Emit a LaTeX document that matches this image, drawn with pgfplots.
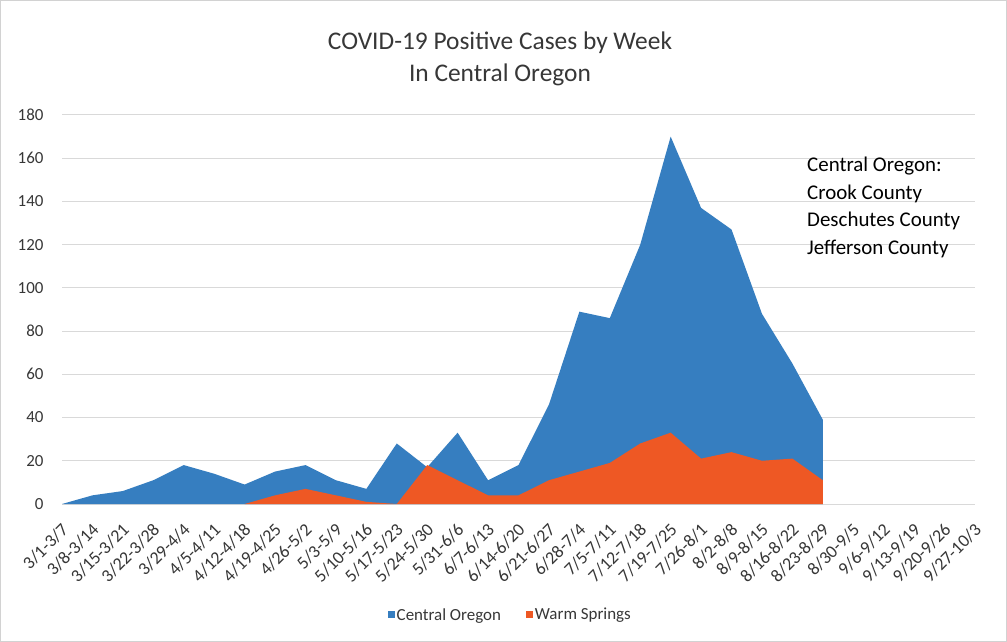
\documentclass[border=0pt]{standalone}
\usepackage{fontspec}
\setmainfont{Carlito}
\usepackage{pgfplots}
\pgfplotsset{compat=1.18}
\definecolor{coblue}{RGB}{54,126,192}
\definecolor{wsorange}{RGB}{238,88,36}
\definecolor{gridgray}{RGB}{217,217,217}
\definecolor{txtgray}{RGB}{55,55,55}
\begin{document}
\begin{tikzpicture}
\useasboundingbox (0bp,0bp) rectangle (1007bp,642bp);
\fill[white] (0bp,0bp) rectangle (1007bp,642bp);
\draw[gray!35, line width=1bp] (0.5bp,0.5bp) rectangle (1006.5bp,641.5bp);
\node[anchor=base, font=\fontsize{25.5}{25.5}\selectfont, text=txtgray] at (500bp,592bp) {COVID-19 Positive Cases by Week};
\node[anchor=base, font=\fontsize{25.5}{25.5}\selectfont, text=txtgray] at (500bp,560bp) {In Central Oregon};
\begin{axis}[
  at={(62bp,138bp)}, anchor=south west,
  width=913bp, height=389bp, scale only axis,
  xmin=0, xmax=30, ymin=0, ymax=180,
  ytick={0,20,...,180},
  xtick={0,...,30},
  xticklabels={3/1-3/7,3/8-3/14,3/15-3/21,3/22-3/28,3/29-4/4,4/5-4/11,4/12-4/18,4/19-4/25,4/26-5/2,5/3-5/9,5/10-5/16,5/17-5/23,5/24-5/30,5/31-6/6,6/7-6/13,6/14-6/20,6/21-6/27,6/28-7/4,7/5-7/11,7/12-7/18,7/19-7/25,7/26-8/1,8/2-8/8,8/9-8/15,8/16-8/22,8/23-8/29,8/30-9/5,9/6-9/12,9/13-9/19,9/20-9/26,9/27-10/3},
  x tick label style={yshift=-22bp, xshift=4bp, rotate=45, anchor=east, font=\fontsize{18}{18}\selectfont, text=txtgray, inner sep=1bp},
  y tick label style={font=\fontsize{17}{17}\selectfont, text=txtgray},
  /pgf/number format/assume math mode=true,
  ymajorgrids, grid style={gridgray, line width=1bp},
  axis x line*=bottom, axis y line*=left,
  x axis line style={gridgray, line width=1bp, -},
  y axis line style={draw=none},
  major tick length=0pt,
  yticklabel shift=15bp,
  clip=false,
  legend columns=2,
  legend style={draw=none, fill=none, at={(0.491,-0.285)}, anchor=center, font=\fontsize{17}{17}\selectfont, text=txtgray, /tikz/every even column/.append style={column sep=23bp}},
  legend image code/.code={\fill[#1] (0bp,-3.5bp) rectangle (7bp,3.5bp);},
]
\addplot[fill=coblue, draw=none] coordinates {
(0,0) (1,4) (2,6) (3,11) (4,18) (5,14) (6,9) (7,15) (8,18) (9,11) (10,7) (11,28) (12,17) (13,33) (14,11) (15,18) (16,46) (17,89) (18,86) (19,120) (20,170) (21,137) (22,127) (23,88) (24,65) (25,39)
} \closedcycle;
\addlegendentry{Central Oregon}
\addplot[fill=wsorange, draw=none] coordinates {
(6,0) (7,4) (8,7) (9,4) (10,1) (11,0) (12,18) (13,11) (14,4) (15,4) (16,11) (17,15) (18,19) (19,28) (20,33) (21,21) (22,24) (23,20) (24,21) (25,11)
} \closedcycle;
\addlegendentry{Warm Springs}
\end{axis}
\begin{scope}[every node/.style={anchor=base west, font=\fontsize{21}{21}\selectfont, inner sep=0pt}]
\node at (807bp,470bp) {Central Oregon:};
\node at (807bp,442bp) {Crook County};
\node at (807bp,415bp) {Deschutes County};
\node at (807bp,387bp) {Jefferson County};
\end{scope}
\end{tikzpicture}
\end{document}
